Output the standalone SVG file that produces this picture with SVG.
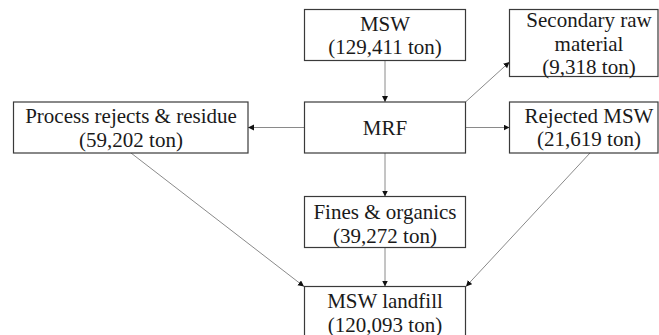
<svg xmlns="http://www.w3.org/2000/svg" width="659" height="335" viewBox="0 0 659 335">
<style>
.box{fill:#ffffff;stroke:#3a3a3a;stroke-width:1.2}
.lbl{font-size:21px;fill:#1a1a1a;text-anchor:middle}
.con{fill:none;stroke:#8a8a8a;stroke-width:1;marker-end:url(#arr)}
</style>
<defs>
<marker id="arr" markerUnits="userSpaceOnUse" markerWidth="8" markerHeight="8" refX="6" refY="3" orient="auto">
<path d="M0,0 L6,3 L0,6 Z" fill="#111111"/>
</marker>
</defs>
<rect width="659" height="335" fill="#ffffff"/>
<g id="connectors">
<path class="con" d="M385 60.5 V102"/>
<path class="con" d="M304.5 127.5 H248"/>
<path class="con" d="M465.5 127.5 H509.5"/>
<path class="con" d="M465.5 102 L509.5 62"/>
<path class="con" d="M385 153 V196.5"/>
<path class="con" d="M385 247.5 V286.5"/>
<path class="con" d="M131 153 L304 286.5"/>
<path class="con" d="M590 153 L466 286.5"/>
</g>
<g font-family="Liberation Serif, Times New Roman, serif">
<g id="msw">
<rect class="box" x="304.5" y="9.5" width="161" height="51"/>
<text class="lbl" x="385" y="31">MSW</text>
<text class="lbl" x="385" y="54">(129,411 ton)</text>
</g>
<g id="mrf">
<rect class="box" x="304.5" y="102" width="161" height="51"/>
<text class="lbl" x="385" y="135">MRF</text>
</g>
<g id="secondary">
<rect class="box" x="509.5" y="9.5" width="148.5" height="67"/>
<text class="lbl" x="589" y="27">Secondary raw</text>
<text class="lbl" x="589" y="50.5">material</text>
<text class="lbl" x="589" y="74">(9,318 ton)</text>
</g>
<g id="rejected">
<rect class="box" x="509.5" y="102" width="148.5" height="51"/>
<text class="lbl" x="589" y="122.5">Rejected MSW</text>
<text class="lbl" x="589" y="146">(21,619 ton)</text>
</g>
<g id="process">
<rect class="box" x="13.5" y="102" width="234.5" height="51"/>
<text class="lbl" x="131" y="123">Process rejects &amp; residue</text>
<text class="lbl" x="131" y="147">(59,202 ton)</text>
</g>
<g id="fines">
<rect class="box" x="304.5" y="196.5" width="161" height="51"/>
<text class="lbl" x="385" y="218.5">Fines &amp; organics</text>
<text class="lbl" x="385" y="242.5">(39,272 ton)</text>
</g>
<g id="landfill">
<rect class="box" x="304.5" y="286.5" width="161" height="60"/>
<text class="lbl" x="385" y="307.5">MSW landfill</text>
<text class="lbl" x="385" y="331.5">(120,093 ton)</text>
</g>
</g>
</svg>
